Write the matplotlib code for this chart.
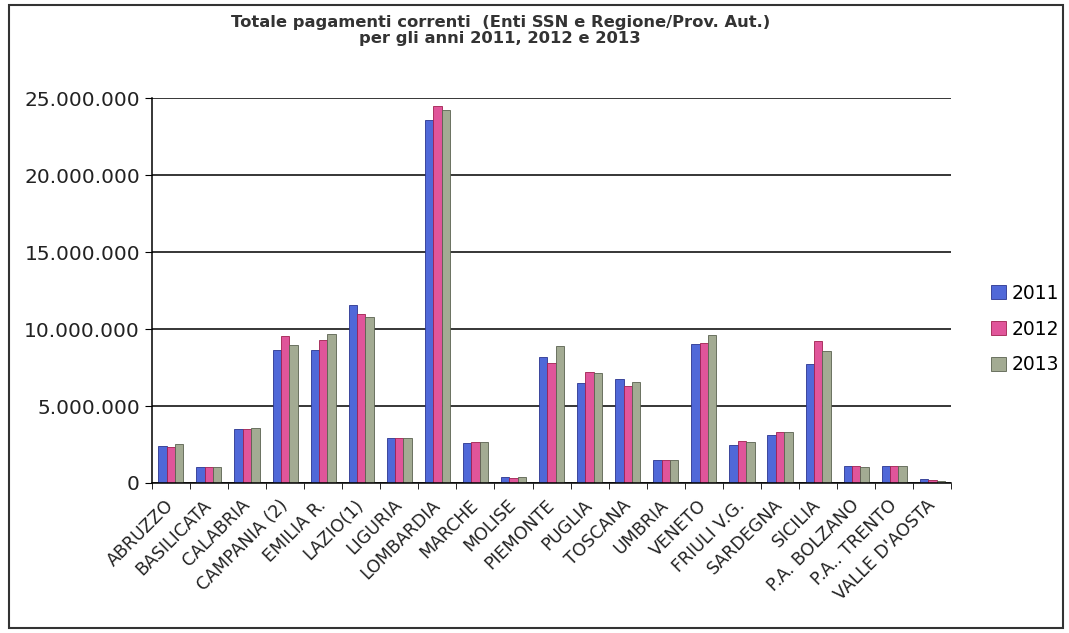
import matplotlib.pyplot as plt
import numpy as np
from matplotlib.ticker import FuncFormatter
from matplotlib.patches import Rectangle

regions = ["ABRUZZO", "BASILICATA", "CALABRIA", "CAMPANIA (2)", "EMILIA R.",
           "LAZIO(1)", "LIGURIA", "LOMBARDIA", "MARCHE", "MOLISE", "PIEMONTE",
           "PUGLIA", "TOSCANA", "UMBRIA", "VENETO", "FRIULI V.G.", "SARDEGNA",
           "SICILIA", "P.A. BOLZANO", "P.A.. TRENTO", "VALLE D'AOSTA"]
v2011 = [2390000, 1040000, 3480000, 8630000, 8640000, 11560000, 2900000, 23570000,
         2600000, 370000, 8200000, 6510000, 6730000, 1480000, 9000000, 2480000,
         3120000, 7700000, 1080000, 1080000, 250000]
v2012 = [2330000, 1040000, 3480000, 9540000, 9290000, 11000000, 2900000, 24480000,
         2680000, 350000, 7770000, 7230000, 6300000, 1500000, 9100000, 2700000,
         3330000, 9200000, 1080000, 1080000, 170000]
v2013 = [2500000, 1020000, 3590000, 8940000, 9700000, 10800000, 2940000, 24260000,
         2680000, 370000, 8900000, 7160000, 6540000, 1500000, 9600000, 2650000,
         3280000, 8600000, 1040000, 1130000, 120000]
years = ["2011", "2012", "2013"]

fig = plt.figure(figsize=(10.69, 6.33), dpi=100)
ax = fig.add_axes([0.142, 0.237, 0.748, 0.608])

x = np.arange(len(regions))
w = 0.22
cols = ["#5068d8", "#e0559a", "#a3ab93"]
edges = ["#2a3590", "#a0204f", "#5a6250"]
for i, (vals, c, e) in enumerate(zip([v2011, v2012, v2013], cols, edges)):
    ax.bar(x + (i - 1) * w, vals, w, color=c, edgecolor=e, linewidth=0.6, label=years[i])

ax.set_xlim(-0.5, len(regions) - 0.5)
ax.set_ylim(0, 25000000)
ax.set_yticks(np.arange(0, 25000001, 5000000))
ax.yaxis.set_major_formatter(FuncFormatter(lambda v, p: f"{int(v):,}".replace(",", ".")))
ax.yaxis.grid(True, color="black", linewidth=1.1)
ax.set_axisbelow(True)
ax.set_xticks(x)
ax.set_xticklabels(regions, rotation=45, ha="right", va="center", rotation_mode="anchor",
                   fontsize=12.5, color="#222222")
ax.set_xticks(np.arange(-0.5, len(regions)), minor=True)
ax.tick_params(axis="x", which="major", length=0, pad=14)
ax.tick_params(axis="x", which="minor", length=4, direction="out")
ax.tick_params(axis="y", labelsize=14.5, length=5, labelcolor="#222222")
for s in ["top", "right"]:
    ax.spines[s].set_visible(False)
ax.spines["left"].set_linewidth(1.1)
ax.spines["bottom"].set_linewidth(1.1)

fig.text(0.468, 0.952, "Totale pagamenti correnti  (Enti SSN e Regione/Prov. Aut.)\nper gli anni 2011, 2012 e 2013",
         ha="center", va="center", fontsize=11.8, fontweight="bold", color="#333333",
         linespacing=1.05)

ax.legend(loc="center left", bbox_to_anchor=(1.05, 0.4), borderaxespad=0, borderpad=0,
          frameon=False, fontsize=13.5, handlelength=0.8, handleheight=0.8,
          handletextpad=0.3, labelspacing=0.9)

fig.patches.append(Rectangle((0.008, 0.008), 0.986, 0.984, transform=fig.transFigure,
                             fill=False, edgecolor="#333333", linewidth=1.5))

fig.savefig("out.png", dpi=100, facecolor="white")
